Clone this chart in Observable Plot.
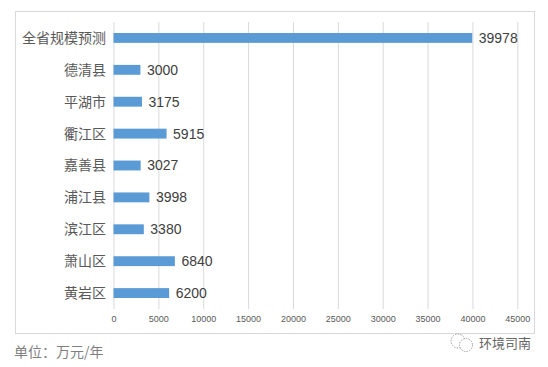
<!DOCTYPE html>
<html><head><meta charset="utf-8">
<script src="https://cdn.jsdelivr.net/npm/d3@7"></script>
<script src="https://cdn.jsdelivr.net/npm/@observablehq/plot@0.6"></script>
<style>
html,body{margin:0;padding:0;background:#fff;width:548px;height:367px;overflow:hidden}
#wrap{position:relative;width:548px;height:367px}
#frame{position:absolute;left:15px;top:11px;width:518px;height:321px;border:1px solid #d9d9d9;box-sizing:content-box}
#chart{position:absolute;left:0;top:0}
#unit{position:absolute;left:14px;top:342px;font:14px/18px "Noto Sans CJK SC";color:#7f7f7f}
#mark{position:absolute;left:479px;top:334px;font:13px/18px "Noto Sans CJK SC";color:#666;letter-spacing:0}
#icon{position:absolute;left:449px;top:331px}
</style></head><body>
<div id="wrap"><div id="frame"></div><div id="chart"></div>
<div id="unit">单位：万元/年</div>
<svg id="icon" width="28" height="24" viewBox="0 0 28 24" fill="none" stroke="#888" stroke-width="0.8" stroke-dasharray="1.5 1.2">
<circle cx="9" cy="10" r="7"/><circle cx="17" cy="14" r="6.5" fill="#fff"/></svg>
<div id="mark">环境司南</div></div>
<script>
const categories = ["全省规模预测","德清县","平湖市","衢江区","嘉善县","浦江县","滨江区","萧山区","黄岩区"];
const values = [39978,3000,3175,5915,3027,3998,3380,6840,6200];
const xTicks = [0,5000,10000,15000,20000,25000,30000,35000,40000,45000];
const rows = categories.map((c,i)=>({c,v:values[i]}));
const plot = Plot.plot({
  width:548,height:333,
  marginLeft:113.5,marginRight:30.7,marginTop:22,marginBottom:24,
  style:{background:"transparent",overflow:"visible"},
  x:{domain:[0,45000],label:null},
  y:{domain:categories,label:null,paddingInner:0.69,paddingOuter:0.345,round:false},
  marks:[
    Plot.ruleX(xTicks,{stroke:"#d9d9d9",strokeWidth:1,strokeOpacity:1}),
    Plot.barX(rows,{x:"v",y:"c",fill:"#5b9bd5"}),
    Plot.text(rows,{x:"v",y:"c",text:d=>String(d.v),textAnchor:"start",dx:6,fill:"#404040",fontSize:14,fontFamily:"Liberation Sans"}),
    Plot.axisY({tickSize:0,tickPadding:8,label:null,fontSize:14,fontFamily:"Noto Sans CJK SC",color:"#595959"}),
    Plot.axisX({ticks:xTicks,tickFormat:d=>String(d),tickSize:0,tickPadding:6,label:null,fontSize:9,fontFamily:"Liberation Sans",color:"#595959"})
  ]
});
document.getElementById("chart").appendChild(plot);
</script></body></html>
